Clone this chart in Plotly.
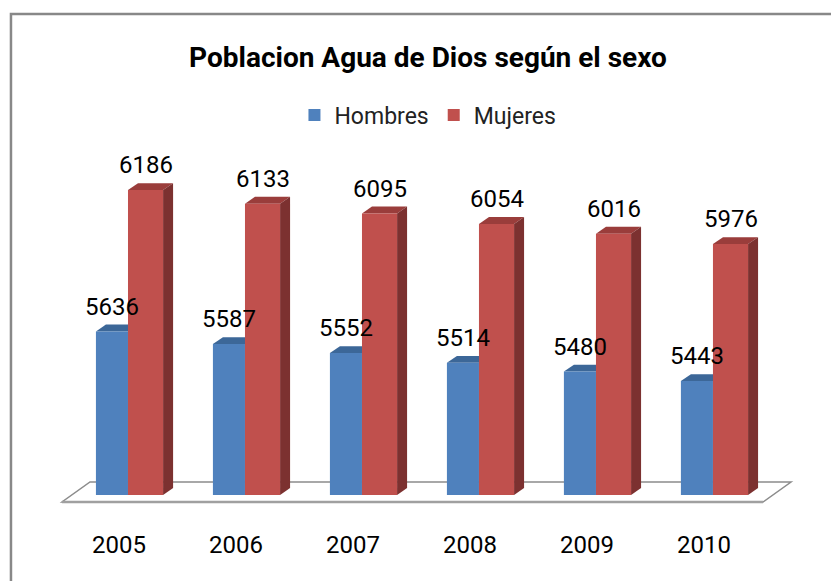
import plotly.graph_objects as go

# ---- data ----
years = ["2005", "2006", "2007", "2008", "2009", "2010"]
hombres = [5636, 5587, 5552, 5514, 5480, 5443]
mujeres = [6186, 6133, 6095, 6054, 6016, 5976]
series_names = ["Hombres", "Mujeres"]
title_text = "Poblacion Agua de Dios según el sexo"

# ---- style constants ----
BLUE, BLUE_TOP = "#4F81BD", "#3C6798"
RED, RED_TOP, RED_SIDE = "#C0504D", "#9A3D3B", "#7C3130"
W_H, W_M = 0.274, 0.30          # bar widths (category units)
DX, DY = 0.0855, 27.0            # 3D depth offset (x units, y units)
Y0, Y1 = 5000, 6342
FONT = "Roboto, 'Liberation Sans', Arial, sans-serif"

xs = list(range(len(years)))

fig = go.Figure()
fig.add_trace(go.Bar(x=xs, y=hombres, width=W_H, offset=-W_H, name=series_names[0],
                     marker=dict(color=BLUE, line=dict(width=0))))
fig.add_trace(go.Bar(x=xs, y=mujeres, width=W_M, offset=0, name=series_names[1],
                     marker=dict(color=RED, line=dict(width=0))))

shapes = []
# outer frame
shapes.append(dict(type="rect", xref="paper", yref="paper", x0=-0.07, x1=1.2, y0=-0.3, y1=1.394,
                   line=dict(color="#888888", width=2.5), fillcolor="rgba(0,0,0,0)", layer="below"))
# floor
shapes.append(dict(type="path", xref="paper", yref="paper",
                   path="M 0,-0.0203 L 0.9616,-0.0203 L 1.0,0.0377 L 0.0384,0.0377 Z",
                   line=dict(color="#8C8C8C", width=1.5), fillcolor="white", layer="below"))
shapes.append(dict(type="line", xref="paper", yref="paper", x0=0, x1=0.9616, y0=-0.0203, y1=-0.0203,
                   line=dict(color="#A0A0A0", width=2.5), layer="below"))

for i, (h, m) in enumerate(zip(hombres, mujeres)):
    c = xs[i]
    # blue top face
    x0, x1 = c - W_H, c
    shapes.append(dict(type="path", xref="x", yref="y", layer="below", line=dict(width=0),
                       fillcolor=BLUE_TOP,
                       path=f"M {x0},{h} L {x1},{h} L {x1+DX},{h+DY} L {x0+DX},{h+DY} Z"))
    # red top face
    x0, x1 = c, c + W_M
    shapes.append(dict(type="path", xref="x", yref="y", layer="below", line=dict(width=0),
                       fillcolor=RED_TOP,
                       path=f"M {x0},{m} L {x1},{m} L {x1+DX},{m+DY} L {x0+DX},{m+DY} Z"))
    # red side face
    shapes.append(dict(type="path", xref="x", yref="y", layer="below", line=dict(width=0),
                       fillcolor=RED_SIDE,
                       path=f"M {x1},{Y0} L {x1+DX},{Y0+DY} L {x1+DX},{m+DY} L {x1},{m} Z"))

annotations = []
for i, (h, m) in enumerate(zip(hombres, mujeres)):
    c = xs[i]
    annotations.append(dict(x=c - W_H / 2, y=h, xref="x", yref="y", text=str(h), showarrow=False,
                            yshift=25, yanchor="middle", font=dict(family=FONT, size=24, color="#000")))
    annotations.append(dict(x=c + W_M / 2, y=m, xref="x", yref="y", text=str(m), showarrow=False,
                            yshift=25, yanchor="middle", font=dict(family=FONT, size=24, color="#000")))

fig.update_layout(
    width=831, height=581,
    margin=dict(l=62, r=40, t=150, b=86),
    paper_bgcolor="white", plot_bgcolor="rgba(0,0,0,0)",
    barmode="overlay",
    title=dict(text=title_text, x=0.515, xanchor="center", y=0.902, yanchor="middle",
               font=dict(family=FONT, size=28, color="#000", weight="bold")),
    legend=dict(orientation="h", x=0.502, xanchor="center", y=1.101, yanchor="middle",
                font=dict(family=FONT, size=23, color="#222"), itemwidth=30,
                bgcolor="rgba(0,0,0,0)"),
    xaxis=dict(range=[-0.564, 5.667], tickvals=[x - 0.077 for x in xs], ticktext=years,
               showgrid=False, zeroline=False, showline=False, ticks="",
               ticklabelstandoff=33, tickfont=dict(family=FONT, size=24, color="#000")),
    yaxis=dict(range=[Y0, Y1], visible=False, showgrid=False, zeroline=False),
    shapes=shapes, annotations=annotations,
    showlegend=True,
)

fig.write_html("out.html", config={"displayModeBar": False},
               post_script="document.body.style.margin='0';document.body.style.overflow='hidden';")
